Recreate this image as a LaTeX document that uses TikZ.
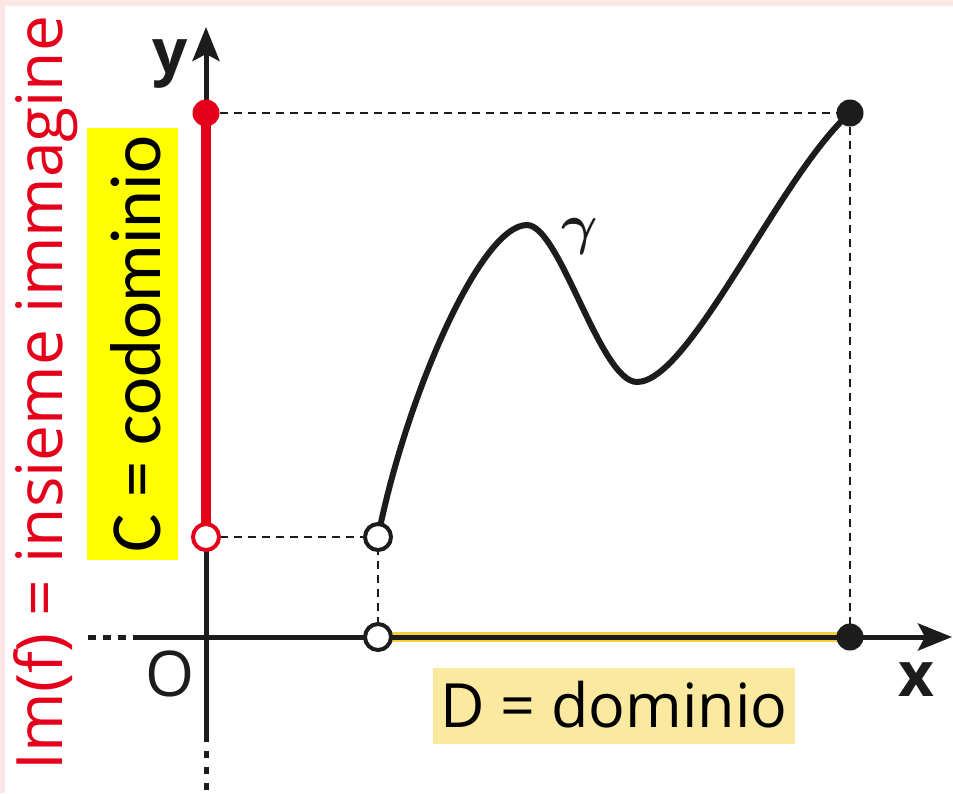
\RequirePackage{fix-cm}
\documentclass[tikz,border=0pt]{standalone}
\usepackage{fontspec}
\usetikzlibrary{arrows.meta}
\newfontfamily\opensans{Open Sans}
\newfontfamily\carlito{Carlito}
\definecolor{ink}{RGB}{28,28,28}
\definecolor{imred}{RGB}{228,0,27}
\definecolor{codyellow}{RGB}{255,255,0}
\definecolor{domyellow}{RGB}{252,233,160}
\definecolor{domline}{RGB}{246,208,60}
\definecolor{pinkbg}{RGB}{253,230,230}

\begin{document}
\begin{tikzpicture}[x=1pt, y=-1pt, line width=5pt,
  axis/.style={ink, -{Stealth[length=34pt, width=27pt, inset=7pt]}},
  proj/.style={ink, line width=2.2pt, dash pattern=on 8pt off 6pt},
  fulldot/.style={circle, fill=ink, minimum size=27pt, inner sep=0pt},
  opendot/.style={circle, draw=ink, fill=white, line width=4pt, minimum size=26pt, inner sep=0pt}]

\useasboundingbox (0,0) rectangle (953,793);
\fill[pinkbg] (0,0) rectangle (953,793);
\fill[white] (5,6) rectangle (953,793);

% points
\coordinate (xDots) at (88,637);
\coordinate (xTail) at (133,637);
\coordinate (xTip)  at (952,637);
\coordinate (yDots) at (206,790);
\coordinate (yTail) at (206,735);
\coordinate (yTip)  at (206,27);
\coordinate (yTop)  at (206,113);
\coordinate (yLow)  at (206,537);
\coordinate (pStart) at (378,537);
\coordinate (xLow)  at (378,637);
\coordinate (xTop)  at (850,637);
\coordinate (pEnd)  at (850,113);
\coordinate (gPeak) at (527,225);
\coordinate (gMin)  at (637,382);

% dashed projections
\draw[proj] (yTop) -- (pEnd) -- (xTop);
\draw[proj] (yLow) -- (pStart) -- (xLow);

% axes
\draw[ink, dash pattern=on 8pt off 7pt] (xDots) -- (xTail);
\draw[ink, dash pattern=on 7pt off 9pt] (yTail) -- (yDots);
\draw[domline, line width=10pt] (xLow) -- (xTop);
\draw[axis] (xTail) -- (xTip);
\draw[axis] (yTail) -- (yTip);
\draw[imred, line width=10pt] (yLow) -- (yTop);

% curve gamma
\draw[ink, line width=6pt, line cap=round]
  (pStart) .. controls (405,400) and (480,225) .. (gPeak)
           .. controls (560,225) and (600,382) .. (gMin)
           .. controls (690,382) and (780,175) .. (pEnd);

% dots
\node[fulldot, fill=imred] (yTopDot) at (yTop) {};
\node[opendot, draw=imred] (yLowDot) at (yLow) {};
\node[opendot] (pStartDot) at (pStart) {};
\node[opendot] (xLowDot) at (xLow) {};
\node[fulldot] (xTopDot) at (xTop) {};
\node[fulldot] (pEndDot) at (pEnd) {};

% labels
\node[ink, font=\opensans\bfseries\fontsize{62}{62}\selectfont] (yLabel) at (170,64) {y};
\node[ink, font=\opensans\bfseries\fontsize{62}{62}\selectfont] (xLabel) at (916,680) {x};
\node[ink, font=\opensans\fontsize{63}{63}\selectfont] (oLabel) at (170,674) {O};
\node[ink, font=\fontsize{56}{56}\selectfont\boldmath] (gammaLabel) at (580,236) {$\gamma$};

\node[imred, rotate=90, anchor=base, font=\opensans\fontsize{64}{64}\selectfont]
  (imLabel) at (62,393) {Im(f) = insieme immagine};
\node[fill=codyellow, rotate=90, anchor=base, text height=73pt, text depth=18pt,
  inner ysep=0pt, inner xsep=8pt, font=\carlito\fontsize{72}{72}\selectfont]
  (codLabel) at (160,344) {C = codominio};
\node[fill=domyellow, anchor=base, text height=59pt, text depth=17pt,
  inner ysep=0pt, inner xsep=7pt, font=\opensans\fontsize{61}{61}\selectfont]
  (domLabel) at (614,727) {D = dominio};

\end{tikzpicture}
\end{document}
